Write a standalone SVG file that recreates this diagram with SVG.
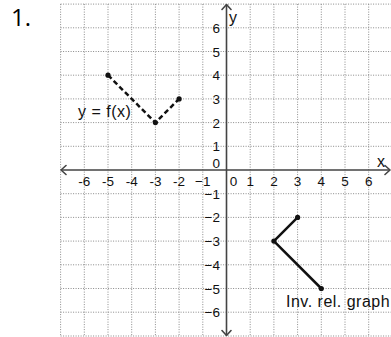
<svg xmlns="http://www.w3.org/2000/svg" width="391" height="337" viewBox="0 0 391 337">
<style>
.grid{stroke:#8a8a8a;stroke-width:1;stroke-dasharray:1 1.5;fill:none}
.axis{stroke:#444;stroke-width:1.6;fill:none}
.head{stroke:#444;stroke-width:1.6;fill:none;stroke-linecap:round;stroke-linejoin:round}
.tick{font-family:"Liberation Sans",Arial,sans-serif;font-size:13.5px;fill:#111}
.tx{text-anchor:middle}
.ty{text-anchor:end}
.lbl{font-family:"Liberation Sans",Arial,sans-serif;font-size:16px;fill:#111}
.f{stroke:#111;stroke-width:2.5;stroke-dasharray:5 3;fill:none}
.inv{stroke:#111;stroke-width:2.5;fill:none;stroke-linecap:round;stroke-linejoin:round}
.pt{fill:#111}
</style>
<rect width="391" height="337" fill="#fff"/>
<text x="11" y="26" font-family="'Open Sans','Liberation Sans',sans-serif" font-size="24" fill="#000">1.</text>
<g id="grid" class="grid">
<path d="M60.6 4.1V336M84.3 4.1V336M108 4.1V336M131.7 4.1V336M155.4 4.1V336M179.1 4.1V336M202.8 4.1V336M250.2 4.1V336M273.9 4.1V336M297.6 4.1V336M321.3 4.1V336M345 4.1V336M368.7 4.1V336"/>
<path d="M60.6 4.1H391M60.6 27.8H391M60.6 51.5H391M60.6 75.2H391M60.6 98.9H391M60.6 122.6H391M60.6 146.3H391M60.6 193.7H391M60.6 217.4H391M60.6 241.1H391M60.6 264.8H391M60.6 288.5H391M60.6 312.2H391M60.6 336H391"/>
</g>
<g id="axes">
<path class="axis" d="M61 170H390M226.5 4.5V335.5"/>
<path class="head" d="M66 165.5L61 170L66 174.5M385 165.5L390 170L385 174.5M222 9.5L226.5 4.5L231 9.5M222 330.5L226.5 335.5L231 330.5"/>
<text class="lbl" x="377" y="167" font-size="15">x</text>
<text class="lbl" x="229" y="23" font-size="15">y</text>
</g>
<g id="x-ticks" class="tick tx">
<text x="84.3" y="186">-6</text><text x="108" y="186">-5</text><text x="131.7" y="186">-4</text><text x="155.4" y="186">-3</text><text x="179.1" y="186">-2</text><text x="202.8" y="186">−1</text>
<text x="233.5" y="186">0</text><text x="250.2" y="186">1</text><text x="273.9" y="186">2</text><text x="297.6" y="186">3</text><text x="321.3" y="186">4</text><text x="345" y="186">5</text><text x="368.7" y="186">6</text>
</g>
<g id="y-ticks" class="tick ty">
<text x="220" y="32.8">6</text><text x="220" y="56.5">5</text><text x="220" y="80.2">4</text><text x="220" y="103.9">3</text><text x="220" y="127.6">2</text><text x="220" y="151.3">1</text><text x="220" y="168">0</text>
<text x="220" y="198.7">−1</text><text x="220" y="222.4">−2</text><text x="220" y="246.1">−3</text><text x="220" y="269.8">−4</text><text x="220" y="293.5">−5</text><text x="220" y="317.2">−6</text>
</g>
<g id="f-graph">
<path class="f" d="M108 75.2L155.4 122.6L179.1 98.9"/>
<circle class="pt" cx="108" cy="75.2" r="2.6"/><circle class="pt" cx="155.4" cy="122.6" r="2.6"/><circle class="pt" cx="179.1" cy="98.9" r="2.6"/>
<text class="lbl" x="78" y="117" font-size="16.5" letter-spacing="0.5">y = f(x)</text>
</g>
<g id="inv-graph">
<path class="inv" d="M297.6 217.4L273.9 241.1L321.3 288.5"/>
<circle class="pt" cx="297.6" cy="217.4" r="2.6"/><circle class="pt" cx="273.9" cy="241.1" r="2.6"/><circle class="pt" cx="321.3" cy="288.5" r="2.6"/>
<text class="lbl" x="286" y="306.5" font-size="16.5" letter-spacing="0.5">Inv. rel. graph</text>
</g>
</svg>
